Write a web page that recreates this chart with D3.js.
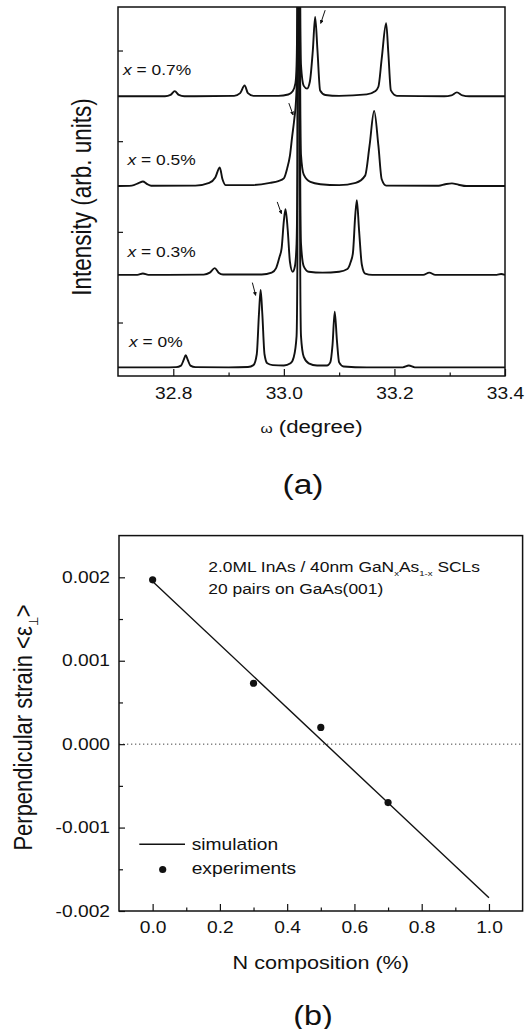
<!DOCTYPE html>
<html>
<head>
<meta charset="utf-8">
<script src="https://cdn.jsdelivr.net/npm/d3@7"></script>
<style>
  body { margin: 0; background: #fff; }
  svg { display: block; font-family: "Liberation Sans", Arial, sans-serif; }
</style>
</head>
<body>
<svg id="chart" width="525" height="1029"></svg>
<script>
// ---- panel (a): XRD scans, [omega, intensity above baseline] ----
const omegaTicks = [32.8, 33.0, 33.2, 33.4];
const omegaMinor = [32.9, 33.1, 33.3];
const intensityTicks = [1, 2, 3, 4];
const sampleNames = ["0%", "0.3%", "0.5%", "0.7%"];
const curveOffsets = [0.5, 1.52, 2.5, 3.49];

const scan0 = [
  [32.70, 0.005], [32.78, 0.005], [32.805, 0.008], [32.814, 0.025], [32.819, 0.09], [32.8225, 0.14],
  [32.826, 0.09], [32.831, 0.025], [32.84, 0.008], [32.90, 0.005], [32.935, 0.01], [32.945, 0.03],
  [32.951, 0.15], [32.955, 0.6], [32.958, 0.86], [32.961, 0.6], [32.965, 0.15], [32.97, 0.05],
  [32.98, 0.03], [33.0, 0.025], [33.012, 0.05], [33.018, 0.12], [33.023, 0.35], [33.0245, 1.2],
  [33.0258, 5], [33.027, 9], [33.0282, 5], [33.0295, 1.2], [33.031, 0.35], [33.036, 0.12],
  [33.045, 0.05], [33.06, 0.025], [33.078, 0.025], [33.084, 0.06], [33.088, 0.25], [33.092, 0.62],
  [33.096, 0.3], [33.100, 0.06], [33.108, 0.015], [33.15, 0.005], [33.215, 0.005], [33.226, 0.025],
  [33.237, 0.005], [33.40, 0.005]
];
const scan03 = [
  [32.70, 0.005], [32.735, 0.005], [32.745, 0.02], [32.755, 0.005], [32.855, 0.008], [32.866, 0.03],
  [32.875, 0.08], [32.882, 0.03], [32.89, 0.01], [32.96, 0.01], [32.978, 0.03], [32.986, 0.08],
  [32.992, 0.2], [32.996, 0.3], [33.0, 0.6], [33.003, 0.73], [33.007, 0.5], [33.011, 0.15],
  [33.016, 0.04], [33.020, 0.1], [33.023, 0.35], [33.0245, 1.2], [33.0258, 5], [33.027, 9],
  [33.0282, 5], [33.0295, 1.2], [33.031, 0.35], [33.036, 0.1], [33.045, 0.04], [33.07, 0.03],
  [33.10, 0.04], [33.115, 0.07], [33.121, 0.15], [33.125, 0.25], [33.129, 0.65], [33.132, 0.83],
  [33.136, 0.5], [33.141, 0.12], [33.147, 0.02], [33.16, 0.005], [33.252, 0.005], [33.263, 0.03],
  [33.274, 0.005], [33.385, 0.005], [33.393, 0.015], [33.40, 0.005]
];
const scan05 = [
  [32.70, 0.005], [32.725, 0.01], [32.738, 0.04], [32.745, 0.055], [32.752, 0.03], [32.76, 0.008],
  [32.84, 0.01], [32.865, 0.04], [32.876, 0.1], [32.884, 0.21], [32.889, 0.08], [32.895, 0.015],
  [32.94, 0.015], [32.975, 0.04], [32.99, 0.06], [33.0, 0.09], [33.006, 0.2], [33.011, 0.34],
  [33.015, 0.55], [33.019, 0.75], [33.022, 0.95], [33.0245, 1.4], [33.0258, 5], [33.027, 9],
  [33.0282, 5], [33.0295, 1.2], [33.031, 0.35], [33.036, 0.13], [33.048, 0.05], [33.066, 0.025],
  [33.10, 0.015], [33.13, 0.04], [33.147, 0.12], [33.155, 0.45], [33.1633, 0.834], [33.171, 0.45],
  [33.177, 0.08], [33.185, 0.01], [33.28, 0.008], [33.292, 0.025], [33.304, 0.035], [33.316, 0.02],
  [33.33, 0.005], [33.40, 0.005]
];
const scan07 = [
  [32.70, 0.005], [32.785, 0.005], [32.795, 0.02], [32.8026, 0.062], [32.81, 0.02], [32.82, 0.005],
  [32.91, 0.01], [32.921, 0.04], [32.929, 0.125], [32.935, 0.04], [32.945, 0.01], [32.99, 0.01],
  [33.008, 0.025], [33.016, 0.06], [33.021, 0.15], [33.023, 0.35], [33.0245, 1.2], [33.0258, 5],
  [33.027, 9], [33.0282, 5], [33.0295, 1.2], [33.031, 0.35], [33.036, 0.12], [33.042, 0.09],
  [33.047, 0.165], [33.0524, 0.51], [33.0566, 0.88], [33.0608, 0.51], [33.0656, 0.07], [33.075, 0.02],
  [33.10, 0.01], [33.15, 0.026], [33.165, 0.06], [33.171, 0.11], [33.177, 0.42], [33.185, 0.81],
  [33.189, 0.48], [33.1936, 0.07], [33.2044, 0.01], [33.29, 0.005], [33.303, 0.015], [33.313, 0.048],
  [33.323, 0.015], [33.335, 0.005], [33.40, 0.005]
];
const scans = [scan0, scan03, scan05, scan07];

// little arrows pointing at the superlattice peaks: [omega1, y1, omega2, y2]
const peakArrows = [
  [32.943, 1.44, 32.949, 1.30],
  [32.988, 2.33, 32.9956, 2.20],
  [33.009, 3.42, 33.0167, 3.29],
  [33.0747, 4.445, 33.0667, 4.30]
];

// ---- panel (b): strain vs N composition ----
const nComp = [0, 0.3, 0.5, 0.7];
const strainExp = [0.00197, 0.00073, 0.0002, -0.0007];
const simN = [0, 1.0];
const simStrain = [0.00195, -0.00184];
const nTicks = [0, 0.2, 0.4, 0.6, 0.8, 1.0];
const nMinor = [0.1, 0.3, 0.5, 0.7, 0.9];
const strainTicks = [0.002, 0.001, 0, -0.001, -0.002];
const strainLabels = ["0.002", "0.001", "0.000", "-0.001", "-0.002"];
const strainMinor = [0.0015, 0.0005, -0.0005, -0.0015];

const SX = 1.2; // the original figure is stretched sideways

const svg = d3.select("#chart");
svg.append("rect").attr("width", 525).attr("height", 1029).attr("fill", "#fff");

function txt(x, y, str, size, opts = {}) {
  let t = svg.append("text")
    .attr("transform", `translate(${x},${y}) scale(${SX},1)` + (opts.rotate ? " rotate(-90)" : ""))
    .attr("font-size", size)
    .attr("text-anchor", opts.anchor || "middle")
    .attr("fill", "#111");
  if (str) t.text(str);
  return t;
}

function styleAxis(g, size) {
  g.attr("font-family", null).attr("font-size", size);
  g.select(".domain").remove();
  g.selectAll(".tick line").attr("stroke", "#111").attr("stroke-width", 1.2);
  g.selectAll(".tick text").attr("fill", "#111").attr("transform", `scale(${SX},1)`);
}

// ===== panel (a) =====
const a = { left: 118, right: 505, top: 7, bottom: 376 };
const xA = d3.scaleLinear().domain([32.7, 33.4]).range([a.left, a.right]);
const yA = d3.scaleLinear().domain([0.41, 4.48]).range([a.bottom, a.top]);

svg.append("defs").append("clipPath").attr("id", "clipA")
  .append("rect").attr("x", a.left).attr("y", a.top)
  .attr("width", a.right - a.left).attr("height", a.bottom - a.top);

const scanLine = d3.line().curve(d3.curveMonotoneX);
svg.append("g").attr("clip-path", "url(#clipA)")
  .selectAll("path")
  .data(scans)
  .join("path")
  .attr("d", (s, i) => scanLine(s.map(p => [xA(p[0]), yA(curveOffsets[i] + p[1])])))
  .attr("fill", "none")
  .attr("stroke", "#111")
  .attr("stroke-width", 1.9)
  .attr("stroke-linejoin", "round");

svg.select("defs").append("marker")
  .attr("id", "head").attr("viewBox", "0 0 6 6").attr("refX", 5).attr("refY", 3)
  .attr("markerWidth", 4).attr("markerHeight", 4).attr("orient", "auto")
  .append("path").attr("d", "M0,0L6,3L0,6Z").attr("fill", "#111");

svg.append("g").selectAll("line")
  .data(peakArrows)
  .join("line")
  .attr("x1", d => xA(d[0])).attr("y1", d => yA(d[1]))
  .attr("x2", d => xA(d[2])).attr("y2", d => yA(d[3]))
  .attr("stroke", "#111").attr("stroke-width", 1)
  .attr("marker-end", "url(#head)");

const axA = svg.append("g").attr("transform", `translate(0,${a.bottom})`)
  .call(d3.axisBottom(xA).tickValues(omegaTicks).tickSize(-7).tickPadding(12).tickFormat(d3.format(".1f")));
styleAxis(axA, 16);
styleAxis(svg.append("g").attr("transform", `translate(0,${a.bottom})`)
  .call(d3.axisBottom(xA).tickValues(omegaMinor).tickSize(-3.5).tickFormat("")), 16);
styleAxis(svg.append("g").attr("transform", `translate(${a.left},0)`)
  .call(d3.axisLeft(yA).tickValues(intensityTicks).tickSize(-5).tickFormat("")), 16);

svg.append("rect")
  .attr("x", a.left).attr("y", a.top)
  .attr("width", a.right - a.left).attr("height", a.bottom - a.top)
  .attr("fill", "none").attr("stroke", "#111").attr("stroke-width", 1.5);

// sample labels, placed beside each trace
const labelPos = [[129, 347], [127.5, 257], [127.5, 165], [123, 75]];
sampleNames.forEach((n, i) => {
  const t = txt(labelPos[i][0], labelPos[i][1], null, 14.5, { anchor: "start" });
  t.append("tspan").attr("font-style", "italic").text("x");
  t.append("tspan").text(" = " + n);
});

txt(91, 197, "Intensity (arb. units)", 22.5, { rotate: true });
const xLabA = txt(311.5, 433, null, 18.5);
xLabA.append("tspan").attr("font-size", 13).text("ω");
xLabA.append("tspan").text(" (degree)");
txt(303, 494, "(a)", 28);

// ===== panel (b) =====
const b = { left: 119, right: 522.6, top: 535.6, bottom: 911 };
const xB = d3.scaleLinear().domain([-0.1, 1.1]).range([b.left, b.right]);
const yB = d3.scaleLinear().domain([-0.002, 0.0025]).range([b.bottom, b.top]);

svg.append("line")
  .attr("x1", b.left).attr("x2", b.right)
  .attr("y1", yB(0)).attr("y2", yB(0))
  .attr("stroke", "#444").attr("stroke-width", 1).attr("stroke-dasharray", "1.3,2.7");

svg.append("path")
  .attr("d", d3.line()(simN.map((n, i) => [xB(n), yB(simStrain[i])])))
  .attr("fill", "none").attr("stroke", "#111").attr("stroke-width", 1.4);

svg.append("g").selectAll("circle")
  .data(nComp)
  .join("circle")
  .attr("cx", d => xB(d))
  .attr("cy", (d, i) => yB(strainExp[i]))
  .attr("r", 3.6)
  .attr("fill", "#111");

const axBx = svg.append("g").attr("transform", `translate(0,${b.bottom})`)
  .call(d3.axisBottom(xB).tickValues(nTicks).tickSize(-7).tickPadding(11).tickFormat(d3.format(".1f")));
styleAxis(axBx, 16);
styleAxis(svg.append("g").attr("transform", `translate(0,${b.bottom})`)
  .call(d3.axisBottom(xB).tickValues(nMinor).tickSize(-3.5).tickFormat("")), 16);
const axBy = svg.append("g").attr("transform", `translate(${b.left},0)`)
  .call(d3.axisLeft(yB).tickValues(strainTicks).tickSize(-6).tickPadding(7.5)
    .tickFormat((d, i) => strainLabels[i]));
styleAxis(axBy, 16);
styleAxis(svg.append("g").attr("transform", `translate(${b.left},0)`)
  .call(d3.axisLeft(yB).tickValues(strainMinor).tickSize(-4).tickFormat("")), 16);

svg.append("rect")
  .attr("x", b.left).attr("y", b.top)
  .attr("width", b.right - b.left).attr("height", b.bottom - b.top)
  .attr("fill", "none").attr("stroke", "#111").attr("stroke-width", 1.5);

// sample description
const note1 = txt(208.3, 571.7, null, 14.5, { anchor: "start" });
note1.append("tspan").text("2.0ML InAs / 40nm GaN");
note1.append("tspan").attr("font-size", 8).attr("dy", 4).text("x");
note1.append("tspan").attr("dy", -4).text("As");
note1.append("tspan").attr("font-size", 8).attr("dy", 4).text("1-x");
note1.append("tspan").attr("dy", -4).text(" SCLs");
txt(208.3, 594, "20 pairs on GaAs(001)", 14.5, { anchor: "start" });

// legend
svg.append("line").attr("x1", 139.3).attr("x2", 185).attr("y1", 844.3).attr("y2", 844.3)
  .attr("stroke", "#111").attr("stroke-width", 1.4);
svg.append("circle").attr("cx", 162.7).attr("cy", 869.5).attr("r", 3.6).attr("fill", "#111");
txt(191.7, 850, "simulation", 16, { anchor: "start" });
txt(191.7, 874, "experiments", 16, { anchor: "start" });

const yLabB = txt(32, 727.5, null, 22, { rotate: true });
yLabB.append("tspan").text("Perpendicular strain <ε");
yLabB.append("tspan").attr("font-size", 11).attr("dy", 5).text("⊥");
yLabB.append("tspan").attr("dy", -5).text(">");
txt(320.8, 969, "N composition (%)", 18);
txt(313, 1025, "(b)", 27);
</script>
</body>
</html>
